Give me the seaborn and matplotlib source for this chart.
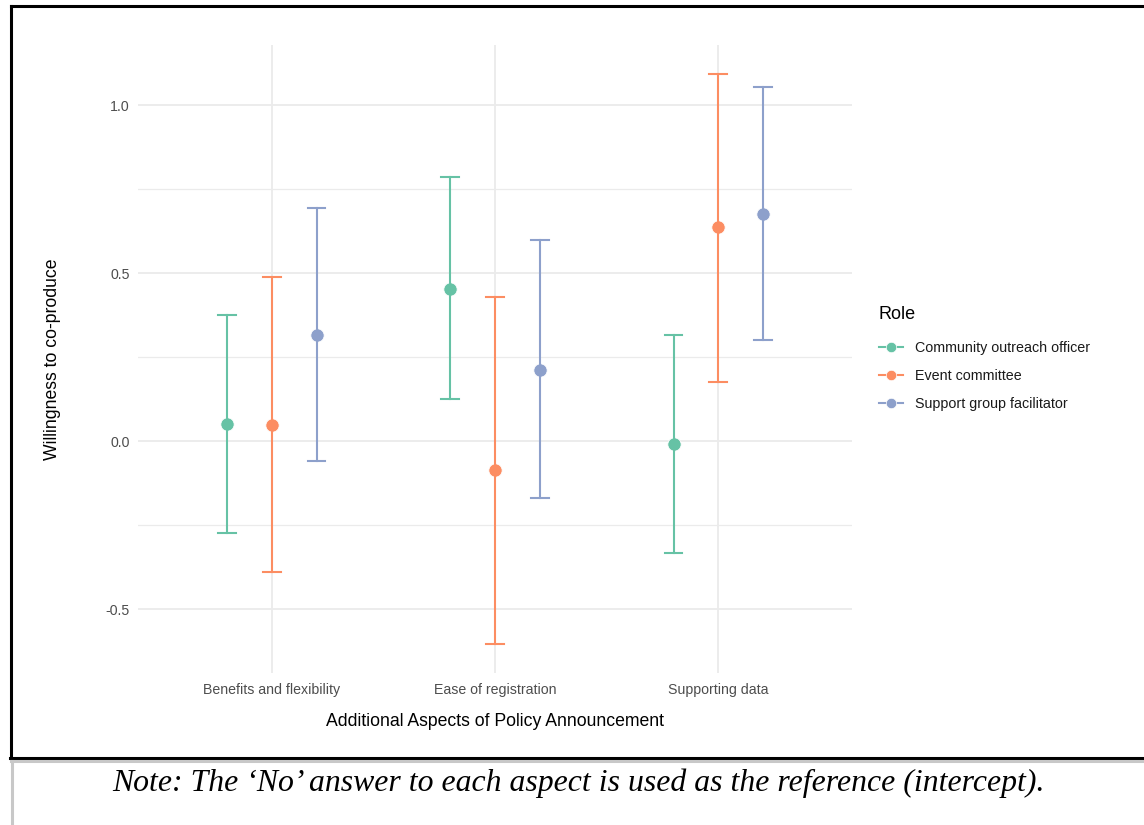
import numpy as np
import pandas as pd
import matplotlib
matplotlib.use("Agg")
import matplotlib.pyplot as plt
from matplotlib.lines import Line2D
import seaborn as sns

# ---- data ----
aspects = ["Benefits and flexibility", "Ease of registration", "Supporting data"]
roles = ["Community outreach officer", "Event committee", "Support group facilitator"]

# estimates, lower and upper bounds, per role (order follows aspects)
est_outreach = [0.051, 0.454, -0.009]
low_outreach = [-0.274, 0.125, -0.333]
high_outreach = [0.375, 0.786, 0.316]

est_event = [0.048, -0.086, 0.636]
low_event = [-0.390, -0.604, 0.176]
high_event = [0.488, 0.429, 1.094]

est_support = [0.316, 0.213, 0.676]
low_support = [-0.060, -0.170, 0.300]
high_support = [0.693, 0.600, 1.053]

y_ticks = [-0.5, 0.0, 0.5, 1.0]
y_tick_labels = ["-0.5", "0.0", "0.5", "1.0"]

# long table: each cell holds low, estimate and high so that
# median = estimate and the 0-100 percentile interval = [low, high]
series = {
    roles[0]: (low_outreach, est_outreach, high_outreach),
    roles[1]: (low_event, est_event, high_event),
    roles[2]: (low_support, est_support, high_support),
}
rows = []
for role, (lo, es, hi) in series.items():
    for i, a in enumerate(aspects):
        for v in (lo[i], es[i], hi[i]):
            rows.append({"Aspect": a, "Role": role, "value": v})
df = pd.DataFrame(rows)

palette = ["#66C2A5", "#FC8D62", "#8DA0CB"]

# ---- figure ----
W, H = 1144, 825
fig = plt.figure(figsize=(W / 100, H / 100), dpi=100)
fig.patch.set_facecolor("white")

def fx(px):
    return px / W

def fy(py):
    return 1 - py / H

ax = fig.add_axes([fx(138), fy(673), fx(852) - fx(138), fy(45) - fy(673)])

sns.pointplot(
    data=df, x="Aspect", y="value", hue="Role",
    order=aspects, hue_order=roles, palette=palette,
    estimator="median", errorbar=("pi", 100),
    dodge=0.4, linestyle="none", capsize=0.08,
    markers="o", markersize=9.6, markeredgewidth=0.6, markeredgecolor="white",
    err_kws={"linewidth": 1.5},
    legend=False, ax=ax,
)

ax.set_xlim(-0.6, 2.6)
ax.set_ylim(-0.69, 1.179)
ax.set_yticks(y_ticks)
ax.set_yticklabels(y_tick_labels)
ax.set_yticks([-0.25, 0.25, 0.75], minor=True)

ax.set_facecolor("white")
for s in ax.spines.values():
    s.set_visible(False)
ax.set_axisbelow(True)
ax.grid(True, which="major", axis="both", color="#EBEBEB", linewidth=1.3)
ax.grid(True, which="minor", axis="y", color="#EBEBEB", linewidth=0.9)
ax.tick_params(which="both", length=0)
ax.tick_params(axis="y", labelsize=10.2, labelcolor="#4D4D4D", pad=6)
ax.tick_params(axis="x", labelsize=10.2, labelcolor="#4D4D4D", pad=7)
for lab in ax.get_xticklabels() + ax.get_yticklabels():
    lab.set_family("Liberation Sans")

ax.set_xlabel("Additional Aspects of Policy Announcement", fontsize=12.7,
              family="Liberation Sans", color="black", labelpad=12)
ax.set_ylabel("Willingness to co-produce", fontsize=12.7,
              family="Liberation Sans", color="black")
ax.yaxis.set_label_coords((61 - 138) / 714, 0.5)

# legend (ggplot-style keys)
handles = [Line2D([0], [0], color=c, marker="o", markersize=7.5, linewidth=1.5,
                  markeredgecolor="white", markeredgewidth=0.5) for c in palette]
leg = fig.legend(handles, roles, title="Role", loc="upper left",
                 bbox_to_anchor=(fx(879), fy(306)), frameon=False,
                 prop={"family": "Liberation Sans", "size": 10.3},
                 title_fontproperties={"family": "Liberation Sans", "size": 13},
                 handlelength=1.7, handletextpad=0.8, labelspacing=0.98,
                 borderaxespad=0, borderpad=0)
leg._legend_box.align = "left"
leg._legend_box.sep = 13
for t in leg.get_texts():
    t.set_color("#1A1A1A")

# frame around the chart and the caption cell lines
fig.add_artist(Line2D([fx(11), fx(1144)], [fy(6), fy(6)], color="black", linewidth=2.2))
fig.add_artist(Line2D([fx(11), fx(11)], [fy(6), fy(757.5)], color="black", linewidth=2.2))
fig.add_artist(Line2D([fx(10), fx(1144)], [fy(757.5), fy(757.5)], color="black", linewidth=2.2))
fig.add_artist(Line2D([fx(11), fx(1144)], [fy(760.5), fy(760.5)], color="#C8C8C8", linewidth=2.2))
fig.add_artist(Line2D([fx(11.5), fx(11.5)], [fy(760.5), fy(825)], color="#C8C8C8", linewidth=2.2))

fig.text(fx(578), fy(783),
         "Note: The \u2018No\u2019 answer to each aspect is used as the reference (intercept).",
         ha="center", va="center", fontsize=22.9, style="italic",
         family="Liberation Serif", color="black")

fig.savefig("out.png", dpi=100)
